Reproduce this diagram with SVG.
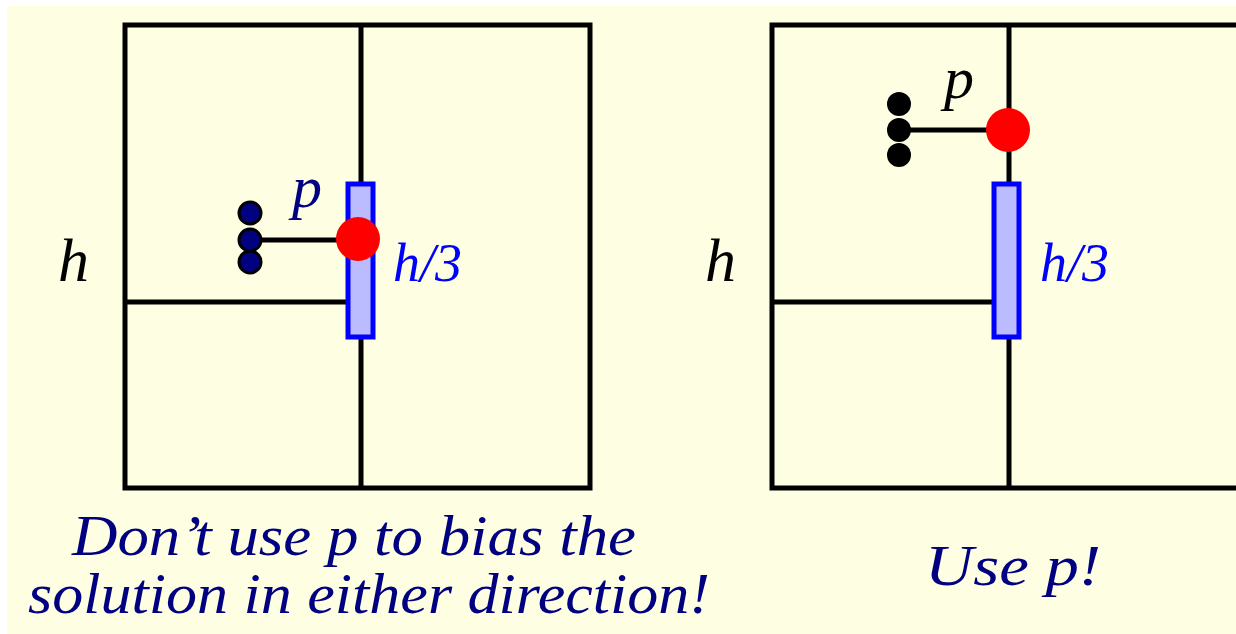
<svg xmlns="http://www.w3.org/2000/svg" width="1236" height="634" viewBox="0 0 1236 634">
<style>
.ln{stroke:#000;stroke-width:5;fill:none}
.bar{fill:#bbbbff;stroke:#0000ff;stroke-width:5}
.red{fill:#ff0000}
.it{font-family:"Liberation Serif",serif;font-style:italic}
.navy{fill:#000080}
</style>
<rect x="0" y="0" width="1236" height="634" fill="#ffffff"/>
<rect x="7" y="6" width="1229" height="628" fill="#fefee3"/>
<g id="left-panel">
<rect class="ln" x="125" y="25" width="465" height="463"/>
<line class="ln" x1="361" y1="25" x2="361" y2="488"/>
<line class="ln" x1="125" y1="302" x2="350" y2="302"/>
<rect class="bar" x="348" y="184" width="25" height="153"/>
<line class="ln" x1="250" y1="240" x2="350" y2="240"/>
<g fill="#000080" stroke="#000" stroke-width="3">
<circle cx="250" cy="213" r="11"/>
<circle cx="250" cy="262" r="11"/>
<circle cx="250" cy="240" r="11"/>
</g>
<circle class="red" cx="358" cy="239" r="22"/>
<text class="it navy" x="292" y="207" font-size="60">p</text>
<text class="it" x="58" y="281" font-size="62" fill="#000">h</text>
<text class="it" x="393" y="281" font-size="54" fill="#0000ff">h/3</text>
</g>
<g id="right-panel">
<rect class="ln" x="772" y="25" width="500" height="463"/>
<line class="ln" x1="1009" y1="25" x2="1009" y2="488"/>
<line class="ln" x1="772" y1="302" x2="994" y2="302"/>
<rect class="bar" x="994" y="184" width="25" height="153"/>
<line class="ln" x1="899" y1="130" x2="1000" y2="130"/>
<g fill="#000">
<circle cx="899" cy="104" r="12"/>
<circle cx="899" cy="155" r="12"/>
<circle cx="899" cy="130" r="12"/>
</g>
<circle class="red" cx="1008" cy="130" r="22"/>
<text class="it" x="944" y="98" font-size="60" fill="#000">p</text>
<text class="it" x="705" y="281" font-size="62" fill="#000">h</text>
<text class="it" x="1040" y="281" font-size="54" fill="#0000ff">h/3</text>
</g>
<g id="captions">
<text class="it navy" x="72" y="555" font-size="56" textLength="564" lengthAdjust="spacingAndGlyphs">Don’t use p to bias the</text>
<text class="it navy" x="28" y="613" font-size="56" textLength="682" lengthAdjust="spacingAndGlyphs">solution in either direction!</text>
<text class="it navy" x="925" y="585" font-size="56" textLength="176" lengthAdjust="spacingAndGlyphs">Use p!</text>
</g>
</svg>
